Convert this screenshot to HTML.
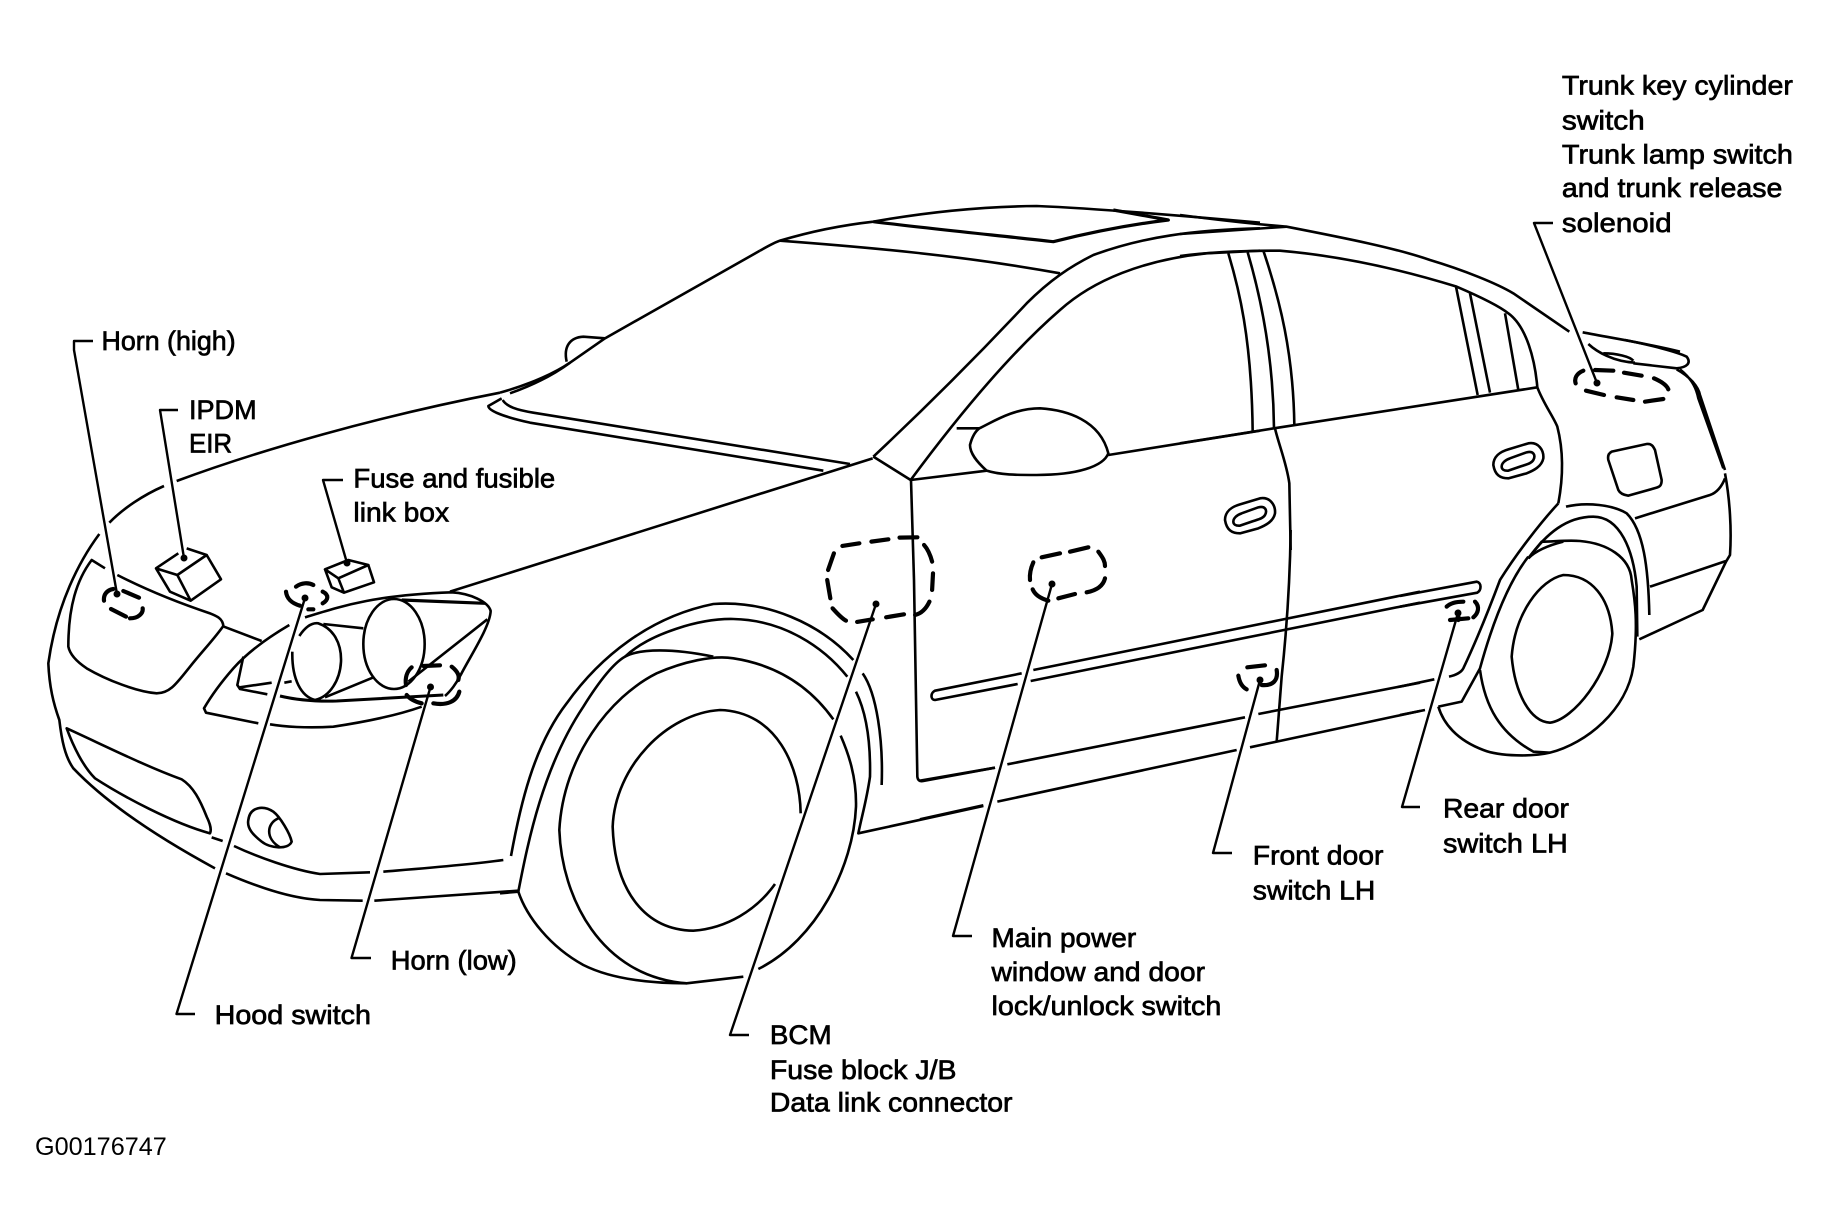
<!DOCTYPE html>
<html><head><meta charset="utf-8"><style>
html,body{margin:0;padding:0;background:#fff}
svg{display:block}
path,ellipse{fill:none;stroke:#000;stroke-width:2.6;vector-effect:non-scaling-stroke;stroke-linejoin:round}
.d path{stroke-width:4.2;stroke-linecap:round}
.l path{stroke-width:2.4}
circle{fill:#000}
text{font-family:"Liberation Sans",sans-serif;font-size:23.3px;fill:#000;stroke:#000;stroke-width:.6px}
</style></head><body>
<svg xmlns="http://www.w3.org/2000/svg" width="1829" height="1230" viewBox="0 0 1829 1230">
<rect width="1829" height="1230" fill="#fff"/>

<!-- roof / A pillar / mirror -->
<g transform="translate(760,190) scale(.33333)">
<path d="M0,182C30,165 50,155 60,152C150,125 250,105 340,95C480,70 650,50 830,48C1000,55 1300,80 1500,98"/>
<path d="M340,95C500,115 700,135 880,155C980,130 1100,105 1225,90L1060,60" style="stroke-width:3.2"/>
<path d="M60,152C300,170 600,195 900,250"/>
<path d="M340,800C500,650 650,500 800,340C870,270 930,230 1000,195C1150,140 1300,120 1500,115"/>
<path d="M452,870C600,670 750,490 900,360C1000,270 1150,210 1340,190L1500,182"/>
<path d="M340,800L452,870L680,842M590,715L658,715"/>
<path d="M658,715C700,695 760,655 840,655C920,660 1020,690 1045,790C1030,830 950,855 830,855C770,855 720,855 680,842C650,815 630,790 630,765C635,745 645,725 658,715Z"/>
<path d="M1045,795L1500,722"/>
</g>

<!-- windshield base, crease -->
<g transform="translate(420,300) scale(.33333)">
<path d="M240,278C340,250 410,215 450,188L555,115L1020,-148"/>
<path d="M270,280C340,255 400,225 450,188"/>
<path d="M245,295L205,318C205,330 240,348 330,368L1210,512"/>
<path d="M248,300C260,320 290,330 340,338L1290,492"/>
<path d="M440,185C430,140 450,112 490,110L555,115"/>
<path d="M90,875L1358,475"/>
</g>

<!-- hood line -->
<g transform="translate(60,320) scale(.33333)">
<path d="M148,608C190,565 250,525 312,498M350,483C600,390 950,290 1320,218"/>
</g>

<!-- front end -->
<g transform="translate(40,540) scale(.33333)">
<path d="M178,-18C120,60 50,190 25,370C28,440 40,490 58,540C65,600 75,650 100,685C200,790 350,890 525,985M558,1000C650,1040 750,1075 840,1080L968,1082M1003,1082C1150,1072 1300,1062 1435,1052"/>
<path d="M195,85L155,60C110,120 85,200 85,320C90,345 110,365 140,385C200,420 290,455 350,460C390,460 410,430 450,380C490,330 520,300 550,258C548,235 530,228 510,220C420,190 320,150 232,105"/>
<path d="M552,260L665,303"/>
<path d="M748,255C680,295 620,340 580,385C545,425 515,465 492,505L498,518L655,550M690,553C730,560 800,565 880,560C960,548 1060,530 1145,500"/>
<path d="M795,232C900,200 1000,165 1235,157C1290,160 1345,185 1352,213C1350,260 1290,350 1262,405C1250,430 1230,455 1215,468"/>
<ellipse cx="1062" cy="312" rx="92" ry="135"/>
<path d="M778,288C800,255 820,248 835,250C880,265 905,310 903,365C900,420 870,470 825,480C785,470 755,420 757,335"/>
<path d="M850,252L970,265M855,472L998,413"/>
<path d="M1085,180L1335,190" style="stroke-width:3.2"/>
<path d="M1342,238L1105,425M610,350L592,435L600,447L682,463M600,442L695,428M733,428L755,424"/>
<path d="M720,468C770,480 820,485 890,483L1210,465" style="stroke-width:3"/>
<path d="M440,25L500,45L412,105L348,85L390,155L452,182L412,105M500,45L543,118L452,182M348,85L415,40"/>
<path d="M855,88L925,60L985,75L895,115ZM985,75L1002,127L912,158L895,115M855,88L875,142L912,158"/>
<path d="M80,565C100,620 130,680 165,715C250,770 400,850 510,880C515,870 510,850 500,830C480,780 460,740 425,718C320,680 200,620 80,565Z"/>
<path d="M625,840C620,865 640,885 665,905C690,925 745,930 755,905C750,880 720,830 700,815C670,795 630,800 625,840ZM715,835C680,850 675,895 720,922"/>
<path d="M515,892L548,903M582,918C650,950 760,990 840,1002L990,997M1030,995C1150,985 1280,975 1390,960"/>
<g class="d">
<path d="M220,147C200,150 190,165 192,182M250,153L297,173M213,207L258,230M270,235C295,235 310,220 308,205"/>
<path d="M768,140C785,128 805,127 820,135M738,155C740,175 755,190 780,197M848,155C868,165 865,180 848,190M805,208L820,208"/>
<path d="M1115,382C1100,395 1095,415 1098,435M1150,378L1200,376M1235,380C1250,392 1260,405 1255,420M1258,455C1250,485 1220,497 1180,490M1145,490C1125,485 1110,478 1100,465"/>
</g>
</g>

<!-- front wheel -->
<g transform="translate(500,580) scale(.33333)">
<path d="M33,828C60,680 100,500 200,370C300,230 450,110 640,72C800,60 960,130 1060,240"/>
<path d="M0,940L55,935C85,780 130,560 250,380C300,300 340,250 375,230C450,160 600,115 700,117C850,120 970,200 1042,290"/>
<path d="M375,230C420,205 520,205 640,230"/>
<path d="M1000,418C930,320 830,255 700,235C640,225 550,245 470,280C330,350 190,530 178,750C185,950 300,1190 560,1210L730,1190"/>
<path d="M775,1167C950,1080 1060,860 1068,680C1070,590 1045,520 1022,467"/>
<path d="M55,935C80,1010 150,1100 250,1155C330,1195 440,1210 560,1210"/>
<path d="M902,700C900,560 830,395 660,390C500,400 345,560 338,740C345,940 440,1050 580,1052C680,1045 770,990 825,912"/>
<path d="M1068,335C1100,400 1112,490 1110,590C1100,660 1085,710 1075,760L1450,678"/>
<path d="M1088,280C1130,340 1150,480 1145,615"/>
<path d="M1242,0L1252,590C1253,600 1258,605 1270,603L1485,563"/>
</g>
<path d="M911,480L914,580"/>

<!-- BCM dashes -->
<g class="d" transform="translate(500,200) scale(.4464,.3333)">
<path d="M767,1038L805,1030M832,1025L870,1018M895,1013L935,1012M950,1035C960,1050 965,1070 968,1085M970,1120L968,1170M962,1205C955,1225 945,1240 930,1245M905,1243L865,1252M835,1258L800,1266M775,1262C765,1255 755,1240 745,1225M740,1195L733,1140M735,1110L748,1060"/>
</g>

<!-- doors bottom -->
<g transform="translate(920,530) scale(.33333)">
<path d="M340,420L1500,185M332,453L1500,218M305,430L45,482C30,490 32,510 45,510L293,462"/>
<path d="M0,752L225,713M262,703L975,562M1015,552L1500,458M0,868L190,826M232,815L950,660M990,652L1500,543"/>
<path d="M1112,0C1110,150 1100,300 1085,440L1070,635"/>
<g class="d">
<path d="M365,82L420,70M450,65L505,52M535,65C550,85 555,95 555,108M555,145C550,165 535,180 500,187M465,192L415,205M385,212C360,205 345,195 338,178M330,150C328,130 332,115 340,97"/>
<path d="M982,412L1035,406M955,437C958,455 965,470 980,478M1070,420C1075,450 1060,468 1025,465"/>
</g>
</g>

<!-- rear roof, windows -->
<g transform="translate(1180,210) scale(.33333)">
<path d="M0,15C100,28 220,42 320,50C500,85 650,115 750,150C850,180 950,220 1000,250L1168,365"/>
<path d="M0,72L320,50"/>
<path d="M0,138C100,125 200,122 300,122C450,135 620,165 830,230C900,260 960,290 985,310C1040,350 1065,450 1072,532"/>
<path d="M145,130C175,230 215,380 218,665M203,127C245,270 280,450 282,655M250,122C300,270 340,430 343,645"/>
<path d="M828,230L893,555M870,250L930,548M975,310L1015,540"/>
<path d="M0,700L282,655L1072,532"/>
<path d="M1072,532C1090,580 1120,620 1132,650C1150,720 1150,800 1135,880"/>
<path d="M285,655C295,700 320,760 328,820L332,1020"/>
<path d="M940,765C940,740 960,725 985,718L1045,700C1075,695 1092,720 1090,745C1085,770 1060,782 1040,790L985,805C960,805 945,795 940,765Z"/>
<path d="M965,770C965,760 975,750 990,745L1040,727C1060,722 1068,735 1060,750C1055,760 1040,763 1020,770L985,782C972,783 965,778 965,770Z"/>
<path transform="translate(-805,165)" d="M940,765C940,740 960,725 985,718L1045,700C1075,695 1092,720 1090,745C1085,770 1060,782 1040,790L985,805C960,805 945,795 940,765Z"/>
<path transform="translate(-805,165)" d="M965,770C965,760 975,750 990,745L1040,727C1060,722 1068,735 1060,750C1055,760 1040,763 1020,770L985,782C972,783 965,778 965,770Z"/>
<path d="M1295,725L1400,702C1415,700 1420,710 1425,720L1445,810C1445,825 1440,830 1430,833L1345,857C1330,855 1320,850 1315,840L1285,750C1283,740 1285,730 1295,725Z"/>
<path d="M1208,367C1300,385 1400,400 1500,425"/>
</g>

<!-- rear end -->
<g transform="translate(1400,340) scale(.33333)">
<path d="M675,0C750,15 830,35 860,50C875,70 860,82 830,85L700,70M565,12C590,35 640,65 705,68M610,40C650,40 690,50 700,62"/>
<path d="M830,88C870,110 895,140 900,165L975,390M840,88C880,120 890,150 895,175L970,385"/>
<path d="M975,400C990,480 995,570 990,645L978,665L908,810L718,898"/>
<path d="M705,535L930,465C950,458 965,440 975,415M750,740L978,663"/>
<path d="M475,490C420,550 350,640 300,720C270,800 230,900 190,985C185,995 170,1005 147,1010"/>
<path d="M115,1100L185,1085L240,985C280,840 330,720 385,650"/>
<path d="M115,1100C130,1150 170,1200 250,1230C300,1250 400,1250 450,1238C560,1210 680,1110 700,980C715,850 705,780 695,720C690,650 620,610 540,603C500,600 460,605 425,605L385,655"/>
<path d="M385,655C440,580 500,530 580,530C660,530 700,630 710,740L712,890"/>
<path d="M490,605C450,615 410,630 385,655"/>
<path d="M498,500C560,485 640,495 680,520C730,570 745,680 748,825"/>
<path d="M240,990C255,1100 300,1180 400,1235L450,1238"/>
<path d="M635,860C625,780 580,705 490,705C420,720 345,820 335,950C345,1060 390,1145 450,1148C520,1140 630,1000 637,880Z"/>
<path d="M0,1040L103,1018M0,1125L75,1110M0,768L230,725C245,728 245,750 232,758L0,800"/>
<g class="d">
<path d="M550,92C530,100 522,115 527,130M585,90L640,92M672,98L725,107M762,115C785,125 800,135 805,148M790,177L735,185M700,180L650,172M612,165L558,152"/>
<path d="M140,800C150,790 170,785 190,785M225,785C240,800 235,820 220,832M150,840L205,835M175,815L175,840"/>
</g>
</g>

<!-- leaders -->
<g class="l">
<path d="M93,341L74,341L74,350L117,594"/>
<path d="M178,410L160,410L184,558"/>
<path d="M343,480L323,480L347,563"/>
<path d="M305,598L176.5,1014L195,1014"/>
<path d="M430.5,687L351.5,958L371,958"/>
<path d="M876,604L730,1035L749,1035"/>
<path d="M1052,584L953,936L972,936"/>
<path d="M1260,680L1213,853L1232,853"/>
<path d="M1458,613L1402,807L1420,807"/>
<path d="M1597,383L1534,223L1553,223"/>
</g>
<circle cx="117" cy="594" r="3.5"/><circle cx="184" cy="558" r="3.5"/><circle cx="347" cy="563" r="3.5"/><circle cx="305" cy="598" r="3.5"/><circle cx="430.5" cy="687" r="3.5"/><circle cx="876" cy="604" r="3.5"/><circle cx="1052" cy="584" r="3.5"/><circle cx="1260" cy="680" r="3.5"/><circle cx="1458" cy="613" r="3.5"/><circle cx="1597" cy="383" r="3.5"/>

<g transform="scale(1.1665)">
<text x="1339" y="81" textLength="198" lengthAdjust="spacingAndGlyphs">Trunk key cylinder</text>
<text x="1339" y="111" textLength="71" lengthAdjust="spacingAndGlyphs">switch</text>
<text x="1339" y="140" textLength="198" lengthAdjust="spacingAndGlyphs">Trunk lamp switch</text>
<text x="1339" y="169" textLength="189" lengthAdjust="spacingAndGlyphs">and trunk release</text>
<text x="1339" y="199" textLength="94" lengthAdjust="spacingAndGlyphs">solenoid</text>
<text x="87" y="300" textLength="115" lengthAdjust="spacingAndGlyphs">Horn (high)</text>
<text x="162" y="359" textLength="58" lengthAdjust="spacingAndGlyphs">IPDM</text>
<text x="162" y="388" textLength="37" lengthAdjust="spacingAndGlyphs">EIR</text>
<text x="303" y="418" textLength="173" lengthAdjust="spacingAndGlyphs">Fuse and fusible</text>
<text x="303" y="447" textLength="82" lengthAdjust="spacingAndGlyphs">link box</text>
<text x="335" y="831" textLength="108" lengthAdjust="spacingAndGlyphs">Horn (low)</text>
<text x="184" y="878" textLength="134" lengthAdjust="spacingAndGlyphs">Hood switch</text>
<text x="660" y="895" textLength="53" lengthAdjust="spacingAndGlyphs">BCM</text>
<text x="660" y="925" textLength="160" lengthAdjust="spacingAndGlyphs">Fuse block J/B</text>
<text x="660" y="953" textLength="208" lengthAdjust="spacingAndGlyphs">Data link connector</text>
<text x="850" y="812" textLength="124" lengthAdjust="spacingAndGlyphs">Main power</text>
<text x="850" y="841" textLength="183" lengthAdjust="spacingAndGlyphs">window and door</text>
<text x="850" y="870" textLength="197" lengthAdjust="spacingAndGlyphs">lock/unlock switch</text>
<text x="1074" y="741" textLength="112" lengthAdjust="spacingAndGlyphs">Front door</text>
<text x="1074" y="771" textLength="105" lengthAdjust="spacingAndGlyphs">switch LH</text>
<text x="1237" y="701" textLength="108" lengthAdjust="spacingAndGlyphs">Rear door</text>
<text x="1237" y="731" textLength="107" lengthAdjust="spacingAndGlyphs">switch LH</text>
<text x="30" y="990" textLength="113" lengthAdjust="spacingAndGlyphs" style="font-size:21.6px;stroke:none">G00176747</text>
</g>
</svg>
</body></html>
